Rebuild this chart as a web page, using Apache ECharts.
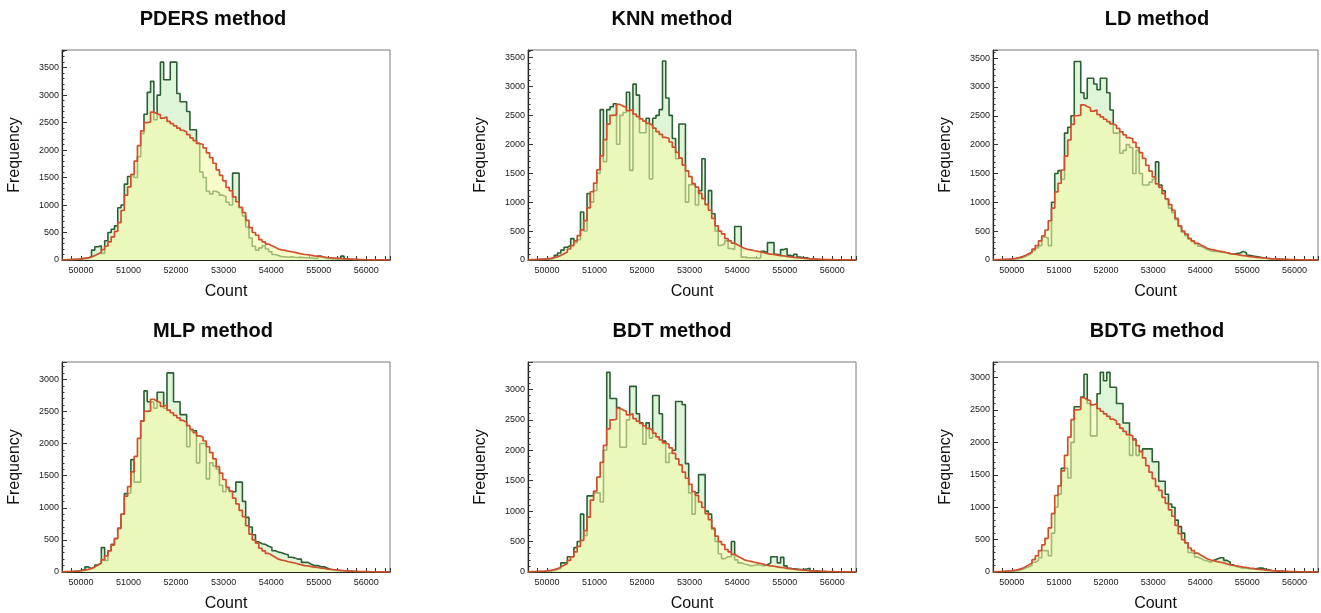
<!DOCTYPE html>
<html>
<head>
<meta charset="utf-8">
<script src="https://cdn.jsdelivr.net/npm/echarts@6/dist/echarts.min.js"></script>
<style>
html,body{margin:0;padding:0;background:#fff;}
#chart{width:1321px;height:613px;}
</style>
</head>
<body>
<div id="chart"></div>
<script>
// ---- data ----
const titles = ["PDERS method", "KNN method", "LD method", "MLP method", "BDT method", "BDTG method"];
const xMin = 49600, binWidth = 69, nBins = 100;
const yMaxes = [3820, 3630, 3640, 3270, 3450, 3240];

// reference (expected) distribution, shared by all panels (red)
const expected = [5,8,10,12,15,20,28,40,55,80,
110,140,190,250,330,420,520,680,900,1180,
1330,1560,1800,2080,2350,2500,2510,2690,2660,2640,
2580,2600,2520,2480,2440,2400,2360,2330,2280,2220,
2170,2120,2100,2040,1950,1860,1760,1640,1540,1440,
1320,1260,1150,1060,960,860,720,590,500,450,
370,330,290,260,230,200,185,175,160,150,
140,125,110,100,95,85,75,70,60,55,
45,40,35,30,25,20,18,15,12,10,
8,6,5,4,4,3,3,2,2,2];

const pders = [0,2,5,8,10,20,30,30,60,180,
240,260,120,350,500,560,620,950,1000,1380,
1520,1550,1500,1880,2300,2650,3050,3250,2550,3000,
3600,3280,3280,3600,3600,3030,2880,2880,2700,2370,
2370,2120,1600,1500,1250,1200,1250,1220,1180,1150,
1050,1000,1580,1580,950,800,600,400,250,180,
220,260,200,150,100,80,60,60,50,60,
50,45,50,40,40,35,30,30,70,40,
30,25,20,20,30,70,20,10,8,6,
5,4,3,2,2,1,1,1,0,0];

const knn = [0,0,5,10,10,15,20,30,80,120,
170,220,250,370,300,350,830,500,1150,1000,
1200,1500,2600,1700,2600,2650,2700,2000,2500,2550,
2900,1550,3040,2850,2200,2200,2450,1400,2450,2500,
2600,3440,2800,2500,2100,1750,2350,2350,1000,1300,
1300,950,1200,1750,950,1200,800,500,250,280,
330,200,180,580,580,50,40,40,40,30,
40,150,120,300,300,100,80,180,200,80,
60,100,50,40,40,20,10,8,6,5,
4,3,2,2,1,1,0,0,0,0];

const ld = [0,2,4,6,8,12,18,25,40,60,
90,120,160,210,250,400,380,250,1000,1500,
1550,1400,2200,2300,2500,3440,3440,2900,2800,3150,
3150,3050,2950,3150,3150,2900,2600,2200,2200,1850,
1900,2000,1950,1500,1900,1500,1300,1300,1350,1400,
1700,1300,1200,1050,900,820,700,580,480,420,
370,320,280,240,210,180,160,150,150,140,
130,120,110,100,110,120,150,120,80,70,
60,50,40,30,25,20,15,12,10,8,
6,5,4,3,2,2,1,1,0,0];

const mlp = [0,2,5,10,15,25,40,80,50,70,
110,140,380,180,330,430,520,680,900,1220,
1230,1750,1400,1400,2350,2820,2650,2650,2550,2800,
2800,2550,3100,3100,2650,2650,2450,2450,1950,2200,
2200,1700,2000,2000,1450,1700,1650,1600,1350,1250,
1300,1250,1250,1400,1400,1100,850,700,580,470,
440,430,400,380,330,310,300,280,270,230,
220,200,200,150,150,120,100,100,80,80,
60,40,30,25,20,15,12,10,8,6,
5,4,3,2,2,1,1,0,0,0];

const bdt = [0,2,4,6,8,10,15,25,40,60,
150,150,250,250,400,500,950,600,1250,1250,
1300,1300,1150,2000,3280,2850,2850,2700,2050,2050,
2500,3050,3050,2600,2450,2100,2450,2200,2900,2900,
2600,2150,1800,1950,2000,2800,2800,2750,1780,1300,
950,1300,1600,1600,1000,950,700,500,300,220,
250,250,500,200,150,130,120,100,110,120,
110,100,120,150,250,250,150,240,100,60,
50,50,40,40,50,60,20,15,10,8,
6,5,4,3,2,2,1,1,0,0];

const bdtg = [0,2,4,6,8,10,15,25,40,60,
80,100,150,180,220,330,330,250,600,1000,
1200,1600,1600,1450,2000,2550,2550,2700,3050,2600,
2100,2100,2750,3080,2950,3080,2850,2850,2600,2600,
2300,2300,1800,2050,1800,1850,1900,1900,1900,1700,
1700,1400,1400,1200,1050,1000,800,700,600,450,
300,280,230,210,180,170,150,180,200,220,
220,180,150,110,80,70,60,60,50,50,
50,60,60,40,30,20,15,12,10,8,
6,5,4,3,2,2,1,1,0,0];

const methodValues = [pders, knn, ld, mlp, bdt, bdtg];

// ---- layout ----
const colLeft = [62, 528, 993];
const colTitle = [213, 672, 1157];
const rowTop = [50, 362];
const rowTitleTop = [9, 321];
const plotW = 328, plotH = 210;
const FONT = "'Liberation Sans', Arial, Helvetica, sans-serif";

function histPoints(vals){
  const pts = [[xMin, 0]];
  for (let i = 0; i < vals.length; i++) pts.push([xMin + i*binWidth, vals[i]]);
  pts.push([xMin + vals.length*binWidth, 0]);
  return pts;
}

const grid = [], xAxis = [], yAxis = [], series = [], title = [];
for (let k = 0; k < 6; k++){
  const r = Math.floor(k/3), c = k % 3;
  grid.push({left: colLeft[c], top: rowTop[r], width: plotW, height: plotH,
    show: true, borderColor: '#7a7a7a', borderWidth: 1, backgroundColor: 'transparent'});
  title.push({text: titles[k], left: colTitle[c], top: rowTitleTop[r], textAlign: 'center', padding: 0,
    textStyle: {fontFamily: FONT, fontSize: 20, fontWeight: 'bold', color: '#0a0a0a'}});
  xAxis.push({type: 'value', gridIndex: k, min: xMin, max: xMin + nBins*binWidth, interval: 200,
    axisLine: {show: true, onZero: false, lineStyle: {color: '#222', width: 1.2}},
    axisTick: {show: true, inside: true, length: 4, lineStyle: {color: '#333'}},
    axisLabel: {fontFamily: FONT, fontSize: 9, color: '#1a1a1a', margin: 6,
      formatter: v => (Math.round(v) % 1000 === 0 ? String(Math.round(v)) : '')},
    splitLine: {show: false},
    name: 'Count', nameLocation: 'middle', nameGap: 24,
    nameTextStyle: {fontFamily: FONT, fontSize: 16, color: '#111'}});
  yAxis.push({type: 'value', gridIndex: k, min: 0, max: yMaxes[k], interval: 500,
    axisLine: {show: true, lineStyle: {color: '#222', width: 1.2}},
    axisTick: {show: true, inside: true, length: 5, lineStyle: {color: '#333'}},
    minorTick: {show: true, splitNumber: 5, length: 2.5, lineStyle: {color: '#333'}},
    axisLabel: {fontFamily: FONT, fontSize: 9, color: '#1a1a1a', margin: 3,
      formatter: v => (Math.round(v) % 500 === 0 ? String(Math.round(v)) : '')},
    splitLine: {show: false}, minorSplitLine: {show: false},
    name: 'Frequency', nameLocation: 'middle', nameGap: 39, nameRotate: 90,
    nameTextStyle: {fontFamily: FONT, fontSize: 16, color: '#111'}});
  series.push({type: 'line', xAxisIndex: k, yAxisIndex: k, step: 'end', symbol: 'none',
    data: histPoints(methodValues[k]), z: 2, animation: false,
    lineStyle: {color: '#2b5f34', width: 1.6},
    areaStyle: {color: '#def5d8', opacity: 1}});
  series.push({type: 'line', xAxisIndex: k, yAxisIndex: k, step: 'end', symbol: 'none',
    data: histPoints(expected), z: 3, animation: false,
    lineStyle: {color: '#d0502e', width: 1.7},
    areaStyle: {color: 'rgb(243,250,165)', opacity: 0.58}});
}

const chart = echarts.init(document.getElementById('chart'), null, {renderer: 'canvas'});
chart.setOption({animation: false, backgroundColor: '#fff', title, grid, xAxis, yAxis, series});
</script>
</body>
</html>
